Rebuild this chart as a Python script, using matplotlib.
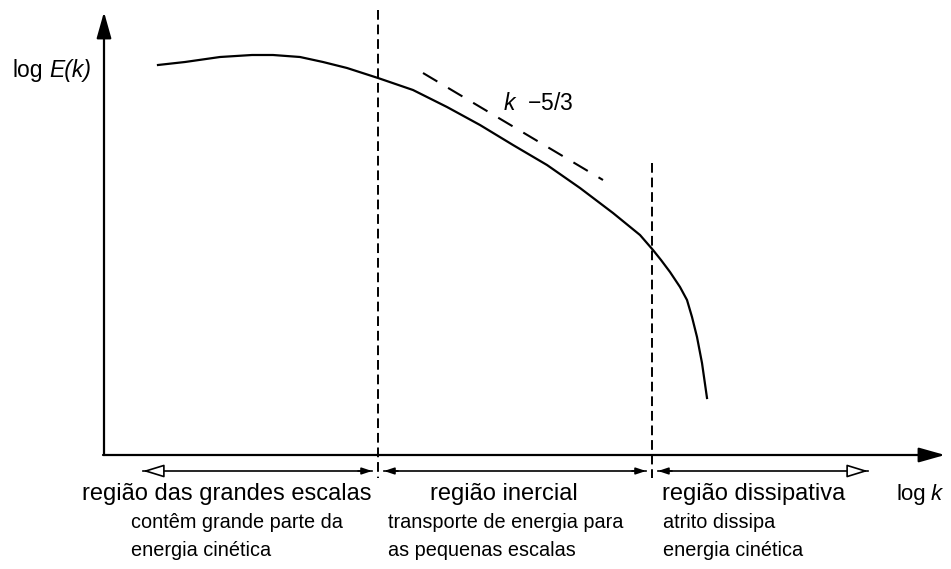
import numpy as np
import matplotlib
matplotlib.use('Agg')
import matplotlib.pyplot as plt

plt.rcParams['font.family'] = ['Liberation Sans', 'DejaVu Sans']
plt.rcParams['mathtext.fontset'] = 'custom'
plt.rcParams['mathtext.rm'] = 'Liberation Sans'
plt.rcParams['mathtext.it'] = 'Liberation Sans:italic'

# diagram coordinates (pixel-like units, y grows downward)
spectrum_x = [158, 185, 220, 252, 273, 300, 323, 347, 378, 413, 447, 480, 513,
              547, 580, 613, 640, 653, 661, 670, 680, 687, 692, 697, 702, 707]
spectrum_y = [65, 62, 57, 55, 55, 57, 62, 68, 78, 90, 107, 125, 145,
              165, 188, 213, 235, 250, 260, 272, 287, 300, 317, 337, 363, 398]

slope_x = [423, 603]
slope_y = [73, 180]

boundaries = [378, 652]
boundary_top = [10, 163]

region_names = ["região das grandes escalas", "região inercial", "região dissipativa"]
region_notes = [["contêm grande parte da", "energia cinética"],
                ["transporte de energia para", "as pequenas escalas"],
                ["atrito dissipa", "energia cinética"]]

fig = plt.figure(figsize=(9.51, 5.69), dpi=100)
ax = fig.add_axes([0, 0, 1, 1])
ax.set_xlim(0, 951)
ax.set_ylim(569, 0)
ax.axis('off')

origin = (104, 455)

# axes with arrows
ax.annotate('', xy=(origin[0], 12), xytext=origin,
            arrowprops=dict(arrowstyle='-|>,head_length=1.6,head_width=0.45',
                            fc='black', ec='black', lw=1.6, shrinkA=0, shrinkB=0))
ax.annotate('', xy=(945, origin[1]), xytext=(origin[0] - 1, origin[1]),
            arrowprops=dict(arrowstyle='-|>,head_length=1.6,head_width=0.45',
                            fc='black', ec='black', lw=1.6, shrinkA=0, shrinkB=0))

# energy spectrum
ax.plot(spectrum_x, spectrum_y, color='black', lw=1.6, solid_joinstyle='round')
ax.plot(slope_x, slope_y, color='black', lw=1.5, dashes=(8, 6))

# region boundaries
for bx, top in zip(boundaries, boundary_top):
    ax.plot([bx, bx], [top, 478], color='black', lw=1.4, dashes=(5, 2.5))

# region spans along the bottom
arrow_y = 471
edges = [143, boundaries[0], boundaries[1], 868]
small = dict(arrowstyle='-|>,head_length=0.6,head_width=0.2', fc='black',
             ec='black', lw=1.2, shrinkA=0, shrinkB=0)
big = dict(arrowstyle='-|>,head_length=1.3,head_width=0.4', fc='white',
           ec='black', lw=1.2, shrinkA=0, shrinkB=0)
for i in range(3):
    left = edges[i] + (0 if i == 0 else 6)
    right = edges[i + 1] - (0 if i == 2 else 6)
    ax.plot([left, right], [arrow_y, arrow_y], color='black', lw=1.2)
    ax.annotate('', xy=(left, arrow_y), xytext=(left + 14, arrow_y),
                arrowprops=big if i == 0 else small)
    ax.annotate('', xy=(right, arrow_y), xytext=(right - 14, arrow_y),
                arrowprops=big if i == 2 else small)

# labels
ax.text(227, 494, region_names[0], ha='center', va='center', fontsize=17)
ax.text(504, 494, region_names[1], ha='center', va='center', fontsize=17)
ax.text(662, 494, region_names[2], ha='left', va='center', fontsize=17)
note_x = [131, 388, 663]
for nx, lines in zip(note_x, region_notes):
    for j, line in enumerate(lines):
        ax.text(nx, 523 + 27 * j, line, ha='left', va='center', fontsize=14.3)

ax.text(897, 494, 'log', ha='left', va='center', fontsize=16)
ax.text(931, 494, 'k', ha='left', va='center', fontsize=16, style='italic')
ax.text(12, 70, 'log', ha='left', va='center', fontsize=16.5)
ax.text(49, 70, 'E(k)', ha='left', va='center', fontsize=16.5, style='italic')
ax.text(503, 103, r'$\mathit{k}$  −5/3', ha='left', va='center', fontsize=16.5)

fig.savefig('out.png', dpi=100, facecolor='white')
